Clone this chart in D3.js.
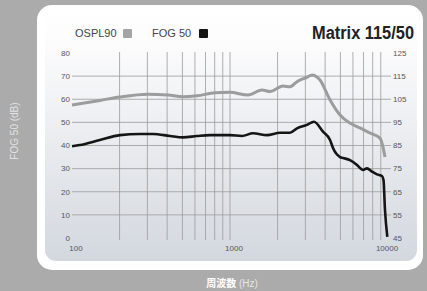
<!DOCTYPE html>
<html>
<head>
<meta charset="utf-8">
<script src="https://cdn.jsdelivr.net/npm/d3@7"></script>
<style>
  html, body { margin: 0; padding: 0; background: #ababab; }
  svg { display: block; font-family: "Liberation Sans", Arial, sans-serif; }
</style>
</head>
<body>
<div id="chart"></div>
<script>
// OSPL90 (right axis, dB SPL)
const osplFreq = [100, 150, 201, 303, 405, 504, 618, 804, 1000, 1300, 1594, 1791, 2164, 2398, 2655, 3070, 3305, 3713, 4298, 4970, 5743, 6650, 7690, 8892, 9290, 9570];
const osplVal  = [102.5, 104.5, 106, 107.2, 106.8, 106.1, 106.5, 107.8, 108, 106.8, 109, 108.3, 110.7, 110.4, 112.6, 114.5, 115.5, 113.3, 104.7, 98.2, 94.7, 92.6, 90.4, 88.2, 84.4, 80];

// FOG 50 (left axis, dB)
const fogFreq = [100, 112, 150, 201, 269, 326, 417, 504, 618, 747, 1000, 1191, 1398, 1715, 2073, 2398, 2655, 3070, 3401, 3878, 4298, 4487, 4970, 5190, 5743, 6365, 6650, 6948, 7362, 7920, 8520, 9161, 9366, 9570, 9900];
const fogVal  = [39.7, 40.2, 42.4, 44.5, 45, 45, 44.1, 43.5, 44.1, 44.5, 44.5, 44.1, 45.3, 44.5, 45.5, 45.5, 47.4, 48.9, 50.3, 46, 42.4, 38.9, 35, 34.6, 33.7, 31.6, 30.3, 29.4, 30.1, 28.7, 27.5, 26.8, 25.1, 12.1, 0.5];

const leftTicks  = [0, 10, 20, 30, 40, 50, 60, 70, 80];
const rightTicks = [45, 55, 65, 75, 85, 95, 105, 115, 125];
const xLabels    = [100, 1000, 10000];
const gridFreq   = [200, 300, 400, 500, 600, 700, 800, 900, 1000, 2000, 3000, 4000, 5000, 6000, 7000, 8000, 9000];

const W = 427, H = 291;

const svg = d3.select('#chart').append('svg')
  .attr('width', W)
  .attr('height', H);

const defs = svg.append('defs');
const grad = defs.append('linearGradient')
  .attr('id', 'bg')
  .attr('x1', 0).attr('y1', 0).attr('x2', 0).attr('y2', 1);
grad.append('stop').attr('offset', '0%').attr('stop-color', '#ffffff');
grad.append('stop').attr('offset', '15%').attr('stop-color', '#fbfbfc');
grad.append('stop').attr('offset', '100%').attr('stop-color', '#d3d8df');

// white panel
svg.append('rect')
  .attr('x', 37).attr('y', 5)
  .attr('width', 386).attr('height', 265)
  .attr('rx', 15)
  .attr('fill', '#ffffff');

svg.append('rect')
  .attr('x', 45).attr('y', 12)
  .attr('width', 372).attr('height', 249)
  .attr('rx', 11)
  .attr('fill', 'url(#bg)');

const x = d3.scaleLog().domain([100, 10000]).range([72, 388]);
const yL = d3.scaleLinear().domain([0, 80]).range([238, 53]);
const yR = d3.scaleLinear().domain([45, 125]).range([238, 53]);

// vertical grid
svg.append('g')
  .selectAll('line')
  .data(gridFreq)
  .enter()
  .append('line')
  .attr('x1', d => x(d)).attr('x2', d => x(d))
  .attr('y1', 52).attr('y2', 240)
  .attr('stroke', '#9a9a9a')
  .attr('stroke-width', 0.8);

// horizontal grid
svg.append('g')
  .selectAll('line')
  .data(leftTicks.filter(d => d > 0 && d < 80))
  .enter()
  .append('line')
  .attr('x1', 72).attr('x2', 391)
  .attr('y1', d => yL(d)).attr('y2', d => yL(d))
  .attr('stroke', '#9a9a9a')
  .attr('stroke-width', 0.8);

// left axis labels
svg.append('g')
  .selectAll('text')
  .data(leftTicks)
  .enter()
  .append('text')
  .attr('x', 70)
  .attr('y', d => yL(d))
  .attr('dy', '0.35em')
  .attr('text-anchor', 'end')
  .attr('font-size', 8)
  .attr('fill', '#555')
  .text(d => d);

// right axis labels
svg.append('g')
  .selectAll('text')
  .data(rightTicks)
  .enter()
  .append('text')
  .attr('x', 393)
  .attr('y', d => yR(d))
  .attr('dy', '0.35em')
  .attr('font-size', 8)
  .attr('fill', '#555')
  .text(d => d);

// x labels
svg.append('g')
  .selectAll('text')
  .data(xLabels)
  .enter()
  .append('text')
  .attr('x', d => x(d) + (d === 10000 ? -1 : 4))
  .attr('y', 251)
  .attr('text-anchor', 'middle')
  .attr('font-size', 8)
  .attr('fill', '#555')
  .text(d => d);

// curves
const osplLine = d3.line()
  .x((d, i) => x(osplFreq[i]))
  .y(d => yR(d))
  .curve(d3.curveMonotoneX);

const fogLine = d3.line()
  .x((d, i) => x(fogFreq[i]))
  .y(d => yL(d))
  .curve(d3.curveMonotoneX);

svg.append('path')
  .attr('d', osplLine(osplVal))
  .attr('fill', 'none')
  .attr('stroke', '#9c9c9c')
  .attr('stroke-width', 3)
  .attr('stroke-linejoin', 'round');

svg.append('path')
  .attr('d', fogLine(fogVal))
  .attr('fill', 'none')
  .attr('stroke', '#151515')
  .attr('stroke-width', 2.6)
  .attr('stroke-linejoin', 'round');

// legend
const legend = svg.append('g').attr('font-size', 11).attr('fill', '#444');
legend.append('text').attr('x', 75).attr('y', 37).text('OSPL90');
legend.append('rect').attr('x', 123).attr('y', 29).attr('width', 9).attr('height', 9).attr('rx', 1).attr('fill', '#a5a5a5');
legend.append('text').attr('x', 152).attr('y', 37).text('FOG 50');
legend.append('rect').attr('x', 199).attr('y', 29).attr('width', 9).attr('height', 9).attr('rx', 1).attr('fill', '#151515');

// title
svg.append('text')
  .attr('x', 414)
  .attr('y', 39)
  .attr('text-anchor', 'end')
  .attr('font-size', 18)
  .attr('font-weight', 'bold')
  .attr('fill', '#222')
  .attr('textLength', 102)
  .attr('lengthAdjust', 'spacingAndGlyphs')
  .text('Matrix 115/50');

// outer axis titles
svg.append('text')
  .attr('transform', 'translate(18,131) rotate(-90)')
  .attr('text-anchor', 'middle')
  .attr('font-size', 10)
  .attr('fill', '#e2e2e2')
  .text('FOG 50 (dB)');

const xt = svg.append('text')
  .attr('x', 232)
  .attr('y', 287)
  .attr('text-anchor', 'middle')
  .attr('font-size', 10);
xt.append('tspan').attr('font-weight', 'bold').attr('fill', '#ffffff')
  .attr('font-family', '"Noto Sans CJK JP", sans-serif').text('周波数');
xt.append('tspan').attr('fill', '#e6e6e6').text(' (Hz)');
</script>
</body>
</html>
